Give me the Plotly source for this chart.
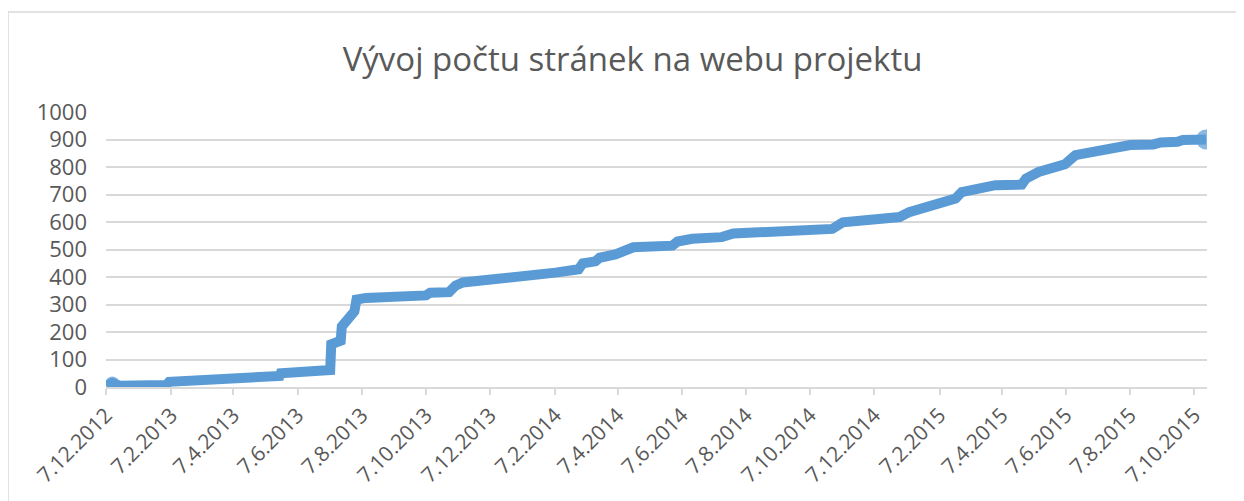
import plotly.graph_objects as go

# data
dates = [
    "2012-12-07", "2012-12-13", "2012-12-20", "2013-02-02", "2013-02-05",
    "2013-04-06", "2013-05-21", "2013-05-22", "2013-06-09", "2013-07-08",
    "2013-07-09", "2013-07-18", "2013-07-19", "2013-07-24", "2013-07-31",
    "2013-08-02", "2013-08-11", "2013-10-07", "2013-10-11", "2013-10-29",
    "2013-11-04", "2013-11-11", "2013-12-16", "2013-12-23", "2014-02-01",
    "2014-02-07", "2014-03-01", "2014-03-05", "2014-03-17", "2014-03-21",
    "2014-04-05", "2014-04-15", "2014-04-22", "2014-05-29", "2014-06-03",
    "2014-06-17", "2014-07-15", "2014-07-26", "2014-09-05", "2014-09-14",
    "2014-10-28", "2014-11-07", "2014-11-16", "2014-11-26", "2014-12-31",
    "2015-01-09", "2015-01-31", "2015-02-11", "2015-02-22", "2015-02-28",
    "2015-03-16", "2015-04-01", "2015-04-26", "2015-04-30", "2015-05-12",
    "2015-05-29", "2015-06-06", "2015-06-16", "2015-06-30", "2015-07-16",
    "2015-08-07", "2015-08-29", "2015-09-05", "2015-09-21", "2015-09-26",
    "2015-10-18",
]
pages = [
    5, 15, 5, 7, 19,
    27, 40, 50, 55, 62,
    155, 168, 220, 245, 275,
    318, 324, 333, 343, 345,
    368, 380, 393, 400, 406,
    416, 428, 450, 457, 470,
    482, 499, 508, 514, 529,
    539, 545, 558, 563, 569,
    575, 599, 603, 611, 618,
    636, 659, 679, 685, 709,
    718, 734, 736, 758, 782,
    803, 810, 843, 855, 867,
    880, 882, 889, 892, 898,
    900,
]

tick_dates = [
    "2012-12-07", "2013-02-07", "2013-04-07", "2013-06-07", "2013-08-07",
    "2013-10-07", "2013-12-07", "2014-02-07", "2014-04-07", "2014-06-07",
    "2014-08-07", "2014-10-07", "2014-12-07", "2015-02-07", "2015-04-07",
    "2015-06-07", "2015-08-07", "2015-10-07",
]
tick_labels = [
    "7.12.2012", "7.2.2013", "7.4.2013", "7.6.2013", "7.8.2013",
    "7.10.2013", "7.12.2013", "7.2.2014", "7.4.2014", "7.6.2014",
    "7.8.2014", "7.10.2014", "7.12.2014", "7.2.2015", "7.4.2015",
    "7.6.2015", "7.8.2015", "7.10.2015",
]
y_ticks = [0, 100, 200, 300, 400, 500, 600, 700, 800, 900, 1000]

BLUE = "#5B9BD5"
TXT = "#595959"
GRID = "#D9D9D9"
FONT = "Open Sans"

fig = go.Figure()
fig.add_trace(go.Scatter(
    x=dates, y=pages, mode="lines",
    line=dict(color=BLUE, width=10, shape="linear"),
    showlegend=False, hoverinfo="x+y",
))
# end-point dots
fig.add_trace(go.Scatter(
    x=[dates[1], dates[-1]], y=[pages[1], pages[-1]], mode="markers",
    marker=dict(color=BLUE, size=[13, 20], line=dict(width=0)),
    showlegend=False, hoverinfo="skip",
))

fig.update_layout(
    width=1236, height=493,
    margin=dict(l=98, r=37, t=104, b=114),
    paper_bgcolor="white", plot_bgcolor="white",
    title=dict(text="Vývoj počtu stránek na webu projektu",
               font=dict(family=FONT, size=33, color=TXT),
               x=0.5053, xanchor="center", y=0.895, yanchor="middle"),
    font=dict(family=FONT, color=TXT),
    shapes=[
        dict(type="line", xref="paper", yref="paper",
             x0=-0.089, x1=1.2, y0=1.3636, y1=1.3636,
             line=dict(color=GRID, width=1.5)),
        dict(type="line", xref="paper", yref="paper",
             x0=-0.089, x1=-0.089, y0=-0.5, y1=1.3636,
             line=dict(color=GRID, width=1.5)),
    ],
)
fig.update_xaxes(
    type="date", range=["2012-12-07", "2015-10-19"],
    tickvals=tick_dates, ticktext=tick_labels, tickangle=-45,
    tickfont=dict(family=FONT, size=21, color=TXT),
    showgrid=False, showline=True, linecolor=GRID, linewidth=1.5,
    ticks="outside", ticklen=6, tickcolor=GRID, tickwidth=1.5,
    zeroline=False, fixedrange=True,
)
fig.update_yaxes(
    range=[0, 1000], tickvals=y_ticks,
    tickfont=dict(family=FONT, size=22, color=TXT),
    showgrid=True, gridcolor=GRID, gridwidth=1.5,
    zeroline=False, showline=False, ticks="", ticklabelstandoff=18,
    fixedrange=True,
)

fig.write_html("out.html")
